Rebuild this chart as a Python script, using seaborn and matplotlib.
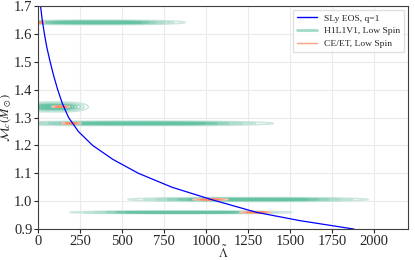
import numpy as np
import matplotlib
matplotlib.use("Agg")
import matplotlib.pyplot as plt
from matplotlib.lines import Line2D
import seaborn as sns
import pandas as pd

# SLy EOS, q=1 curve
sly_mc = [1.70, 1.65, 1.60, 1.55, 1.50, 1.45, 1.40, 1.35, 1.30, 1.25, 1.20,
          1.15, 1.10, 1.05, 1.006, 0.96, 0.93, 0.90]
sly_lam = [15, 25, 38, 53, 72, 93, 117, 145, 182, 240, 325,
           445, 597, 797, 1030, 1300, 1560, 1880]

# H1L1V1 posteriors: centre and half extent of outer contour
hlv_mc = [1.641, 1.338, 1.279, 1.006, 0.960]
hlv_mc_half = [0.008, 0.018, 0.008, 0.007, 0.0045]
hlv_lam = [350, 100, 600, 1250, 850]
hlv_lam_half = [525, 200, 800, 715, 660]

# CE/ET posteriors
ce_mc = [1.641, 1.339, 1.279, 1.006, 0.960]
ce_mc_half = [0.002, 0.002, 0.002, 0.002, 0.002]
ce_lam = [10, 136, 198, 1026, 1295]
ce_lam_half = [32, 54, 58, 104, 95]

green = "#66c2a5"
orange = "#fc8d62"

sns.set_style("whitegrid", {"axes.edgecolor": "0.25", "grid.color": "0.92",
                            "xtick.bottom": True, "ytick.left": True})
plt.rcParams["font.family"] = ["Liberation Serif", "DejaVu Serif"]
plt.rcParams["mathtext.fontset"] = "stix"
plt.rcParams["font.size"] = 8

fig = plt.figure(figsize=(4.15, 2.6), dpi=100)
ax = fig.add_axes([0.0916, 0.119, 0.891, 0.858])


def draw_post(ax, mc, mch, lam, lamh, color, levels, vmin, p):
    cmap = sns.light_palette(color, as_cmap=True)
    for m, mh, c, h in zip(mc, mch, lam, lamh):
        r = (-2 * np.log(levels[0])) ** (1.0 / p)
        ry = np.sqrt(-2 * np.log(levels[0]))
        sx, sy = h / r, mh / ry
        x = np.linspace(c - 1.2 * h, c + 1.2 * h, 600)
        y = np.linspace(m - 1.3 * mh, m + 1.3 * mh, 100)
        X, Y = np.meshgrid(x, y)
        Z = np.exp(-0.5 * np.abs((X - c) / sx) ** p - 0.5 * ((Y - m) / sy) ** 2)
        ax.contour(X, Y, Z, levels=levels, cmap=cmap, vmin=vmin, vmax=0.6,
                   linewidths=1.1)


draw_post(ax, hlv_mc, hlv_mc_half, hlv_lam, hlv_lam_half, green,
          [0.03, 0.1, 0.2, 0.35, 0.5, 0.65, 0.8, 0.92], -0.15, 3)
draw_post(ax, ce_mc, ce_mc_half, ce_lam, ce_lam_half, orange,
          [0.05, 0.3, 0.6, 0.9], -0.4, 3)

df = pd.DataFrame({"lam": sly_lam, "mc": sly_mc})
sns.lineplot(data=df, x="lam", y="mc", color="blue", lw=0.9, ax=ax,
             estimator=None, sort=False)

ax.set_xlim(0, 2200)
ax.set_ylim(0.9, 1.7)
ax.set_xticks(np.arange(0, 2001, 250))
ax.set_yticks(np.round(np.arange(0.9, 1.71, 0.1), 1))
ax.tick_params(length=3, width=0.8, pad=1, labelsize=10.5)
ax.set_xlabel(r"$\tilde{\Lambda}$", fontsize=9)
ax.set_ylabel(r"$\mathcal{M}_c(M_\odot)$", fontsize=9)
ax.xaxis.set_label_coords(0.5, -0.07)
ax.yaxis.set_label_coords(-0.066, 0.5)

handles = [Line2D([], [], color="blue", lw=1),
           Line2D([], [], color=green, lw=2, alpha=0.6),
           Line2D([], [], color=orange, lw=1, alpha=0.8)]
ax.legend(handles, ["SLy EOS, q=1", "H1L1V1, Low Spin", "CE/ET, Low Spin"],
          loc="upper right", fontsize=6.8, frameon=True, fancybox=False,
          edgecolor="0.85", borderaxespad=0.45, handlelength=2.1,
          handletextpad=0.7, labelspacing=0.45)

fig.savefig("out.png", dpi=100)
